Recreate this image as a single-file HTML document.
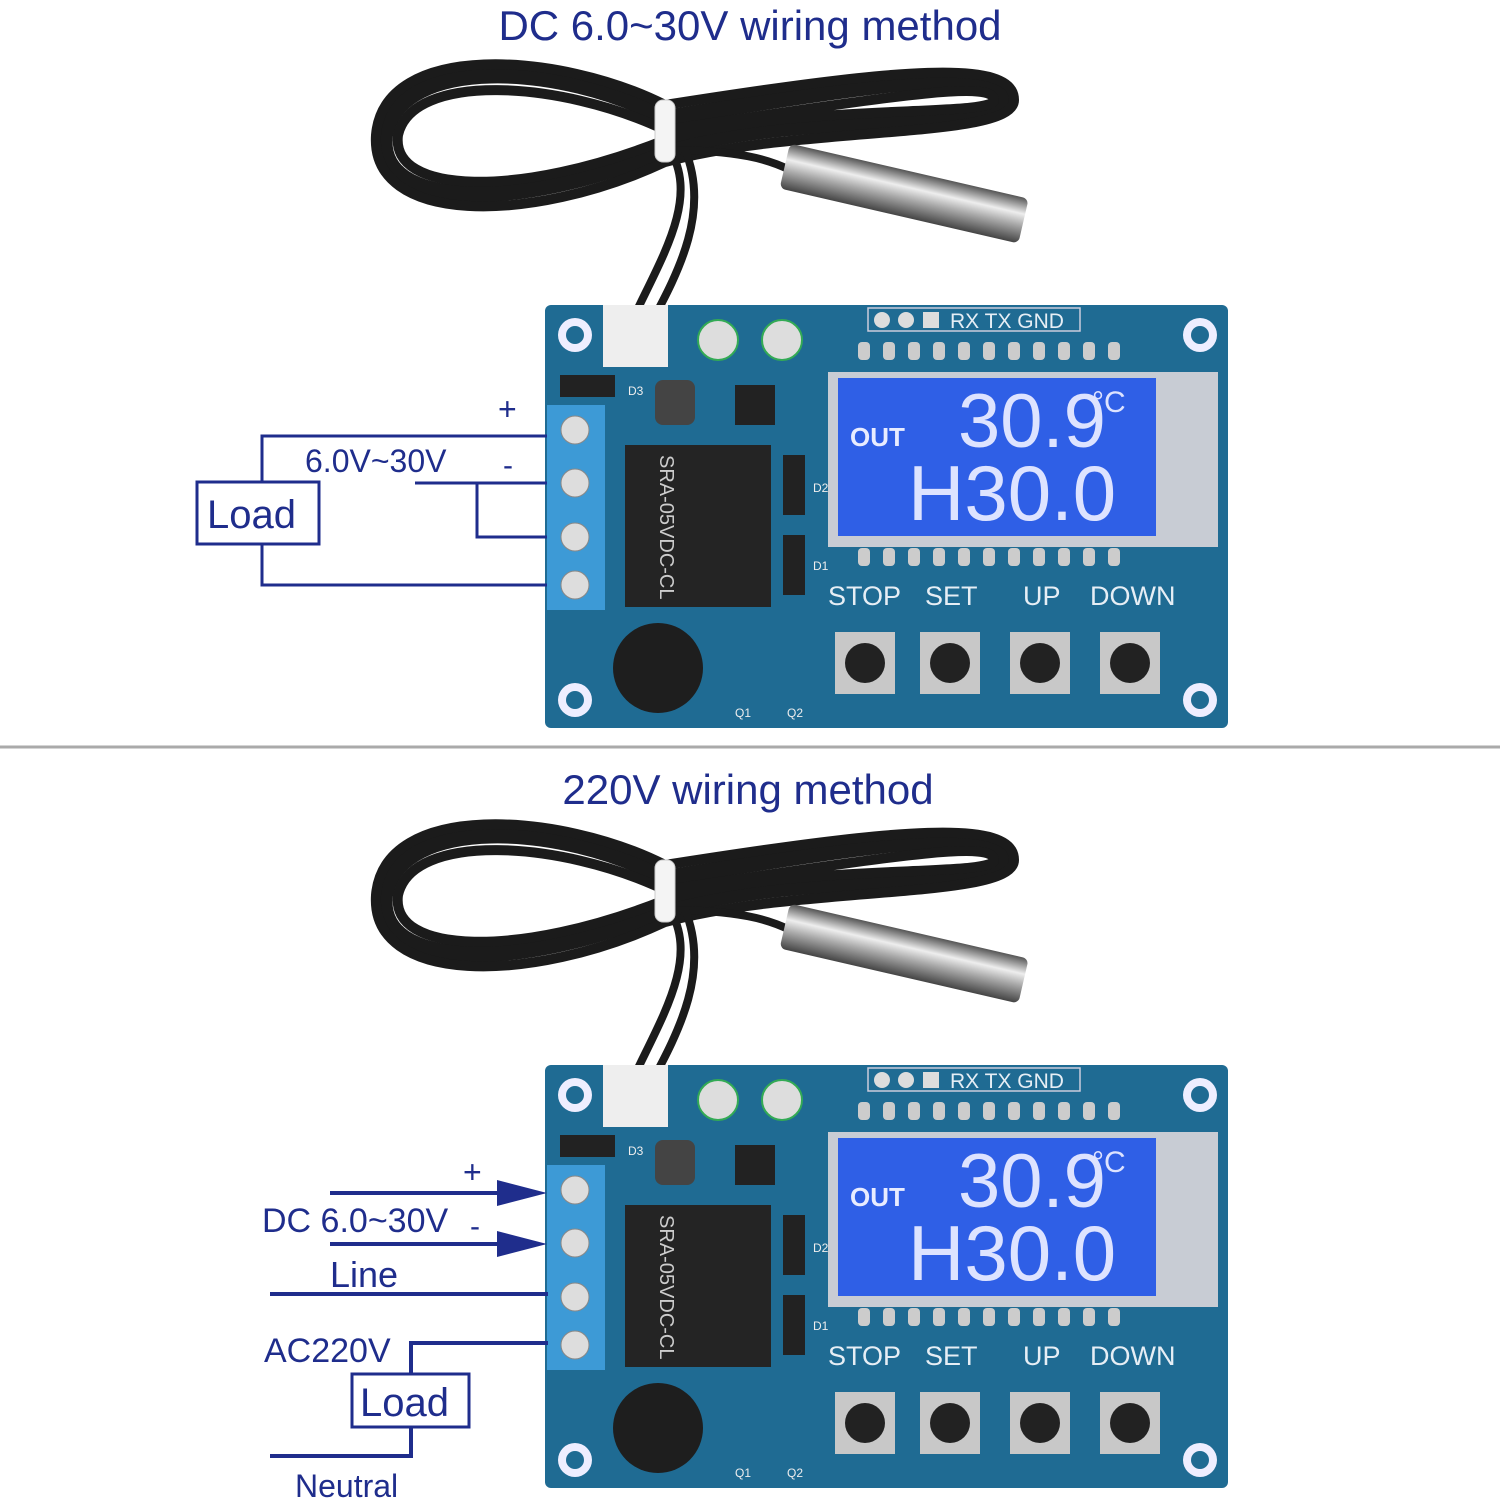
<!DOCTYPE html>
<html><head><meta charset="utf-8"><style>
html,body{margin:0;padding:0;background:#fff;width:1500px;height:1500px;overflow:hidden}
svg{display:block}
text{font-family:"Liberation Sans",sans-serif}
</style></head><body>
<svg width="1500" height="1500" viewBox="0 0 1500 1500" xmlns="http://www.w3.org/2000/svg">
<defs>
<linearGradient id="probe" x1="0" y1="0" x2="0" y2="1">
<stop offset="0" stop-color="#555"/><stop offset="0.35" stop-color="#eee"/><stop offset="0.6" stop-color="#aaa"/><stop offset="1" stop-color="#444"/>
</linearGradient>
</defs>
<text x="750" y="40" font-size="42" fill="#1f2d8c" text-anchor="middle">DC 6.0~30V wiring method</text>
<line x1="0" y1="747" x2="1500" y2="747" stroke="#aaa" stroke-width="3"/>
<text x="748" y="804" font-size="42" fill="#1f2d8c" text-anchor="middle">220V wiring method</text>

<!-- ===== TOP ===== -->
<g>
<g fill="none" stroke="#1b1b1b" stroke-linecap="round">
<path d="M665 118 C560 62 400 55 385 135 C375 210 520 212 665 150 C800 110 1005 130 1005 100 C1005 65 900 80 665 118" stroke-width="16"/>
<path d="M665 105 C560 52 384 40 376 135 C370 225 530 225 665 162 C800 125 1014 140 1014 100 C1014 58 900 68 665 105" stroke-width="10"/>
<path d="M665 130 C560 80 412 72 398 135 C390 195 520 198 665 140 C800 102 994 118 994 100 C994 80 900 95 665 130" stroke-width="10"/>
<path d="M665 150 C740 150 770 160 790 170" stroke-width="8"/>
<path d="M670 150 C700 200 660 260 630 325" stroke-width="8"/>
<path d="M685 150 C710 210 680 270 650 325" stroke-width="8"/>
</g>
<rect x="655" y="100" width="20" height="62" rx="8" fill="#f4f4f4" stroke="#ccc"/>
<g transform="translate(785,165) rotate(13)"><rect x="0" y="-22" width="245" height="46" rx="6" fill="url(#probe)"/></g>

<rect x="545" y="305" width="683" height="423" rx="6" fill="#1f6b93"/>
<g fill="#eef"><circle cx="575" cy="335" r="17"/><circle cx="1200" cy="335" r="17"/><circle cx="575" cy="700" r="17"/><circle cx="1200" cy="700" r="17"/></g>
<g fill="#1f6b93"><circle cx="575" cy="335" r="9"/><circle cx="1200" cy="335" r="9"/><circle cx="575" cy="700" r="9"/><circle cx="1200" cy="700" r="9"/></g>
<rect x="603" y="305" width="65" height="62" fill="#eee"/>
<circle cx="718" cy="340" r="20" fill="#ddd" stroke="#3a5" stroke-width="2"/><circle cx="782" cy="340" r="20" fill="#ddd" stroke="#3a5" stroke-width="2"/>
<rect x="868" y="308" width="212" height="23" fill="#1f6b93" stroke="#ccd" stroke-width="1.5"/>
<text x="950" y="328" font-size="21" fill="#e6eef5">RX TX GND</text>
<g fill="#ddd"><circle cx="882" cy="320" r="8"/><circle cx="906" cy="320" r="8"/><rect x="923" y="312" width="16" height="16"/></g>
<rect x="560" y="375" width="55" height="22" fill="#222"/>
<rect x="547" y="405" width="58" height="205" fill="#3d9ad6"/>
<g fill="#ddd" stroke="#888"><circle cx="575" cy="430" r="14"/><circle cx="575" cy="483" r="14"/><circle cx="575" cy="537" r="14"/><circle cx="575" cy="585" r="14"/></g>
<rect x="655" y="380" width="40" height="45" rx="8" fill="#444"/>
<rect x="735" y="385" width="40" height="40" fill="#222"/>
<rect x="625" y="445" width="146" height="162" fill="#242424"/>
<text transform="translate(660,455) rotate(90)" font-size="20" fill="#ccc">SRA-05VDC-CL</text>
<rect x="783" y="455" width="22" height="60" fill="#222"/><rect x="783" y="535" width="22" height="60" fill="#222"/>
<rect x="828" y="372" width="390" height="175" fill="#c8ccd4"/>
<rect x="838" y="378" width="318" height="158" fill="#2f5fe6"/>
<text x="850" y="446" font-size="26" font-weight="bold" fill="#e8ecff">OUT</text>
<text x="958" y="447" font-size="76" fill="#dde3ff">30.9</text>
<text x="1092" y="412" font-size="30" fill="#dde3ff">°C</text>
<text x="908" y="520" font-size="78" fill="#dde3ff">H30.0</text>
<g fill="#ccc"><rect x="858" y="342" width="12" height="18" rx="4"/><rect x="883" y="342" width="12" height="18" rx="4"/><rect x="908" y="342" width="12" height="18" rx="4"/><rect x="933" y="342" width="12" height="18" rx="4"/><rect x="958" y="342" width="12" height="18" rx="4"/><rect x="983" y="342" width="12" height="18" rx="4"/><rect x="1008" y="342" width="12" height="18" rx="4"/><rect x="1033" y="342" width="12" height="18" rx="4"/><rect x="1058" y="342" width="12" height="18" rx="4"/><rect x="1083" y="342" width="12" height="18" rx="4"/><rect x="1108" y="342" width="12" height="18" rx="4"/>
<rect x="858" y="548" width="12" height="18" rx="4"/><rect x="883" y="548" width="12" height="18" rx="4"/><rect x="908" y="548" width="12" height="18" rx="4"/><rect x="933" y="548" width="12" height="18" rx="4"/><rect x="958" y="548" width="12" height="18" rx="4"/><rect x="983" y="548" width="12" height="18" rx="4"/><rect x="1008" y="548" width="12" height="18" rx="4"/><rect x="1033" y="548" width="12" height="18" rx="4"/><rect x="1058" y="548" width="12" height="18" rx="4"/><rect x="1083" y="548" width="12" height="18" rx="4"/><rect x="1108" y="548" width="12" height="18" rx="4"/></g>
<g font-size="27" fill="#e6eef5"><text x="828" y="605">STOP</text><text x="925" y="605">SET</text><text x="1023" y="605">UP</text><text x="1090" y="605">DOWN</text></g>
<g fill="#c8c8c8"><rect x="835" y="632" width="60" height="62"/><rect x="920" y="632" width="60" height="62"/><rect x="1010" y="632" width="60" height="62"/><rect x="1100" y="632" width="60" height="62"/></g>
<g fill="#222"><circle cx="865" cy="663" r="20"/><circle cx="950" cy="663" r="20"/><circle cx="1040" cy="663" r="20"/><circle cx="1130" cy="663" r="20"/></g>
<circle cx="658" cy="668" r="45" fill="#1e1e1e"/>
<g font-size="12" fill="#eee"><text x="628" y="395">D3</text><text x="813" y="492">D2</text><text x="813" y="570">D1</text><text x="735" y="717">Q1</text><text x="787" y="717">Q2</text></g>

<g stroke="#1f2d8c" stroke-width="3" fill="none">
<polyline points="547,436 262,436 262,482"/>
<rect x="197" y="482" width="122" height="62"/>
<polyline points="262,544 262,585 547,585"/>
<polyline points="415,483 547,483"/>
<polyline points="547,537 477,537 477,483"/>
</g>
<text x="498" y="420" font-size="32" fill="#1f2d8c">+</text>
<text x="305" y="472" font-size="32" fill="#1f2d8c">6.0V~30V</text>
<text x="503" y="475" font-size="30" fill="#1f2d8c">-</text>
<text x="207" y="528" font-size="40" fill="#1f2d8c">Load</text>
</g>

<!-- ===== BOTTOM ===== -->
<g transform="translate(0,760)">
<g fill="none" stroke="#1b1b1b" stroke-linecap="round">
<path d="M665 118 C560 62 400 55 385 135 C375 210 520 212 665 150 C800 110 1005 130 1005 100 C1005 65 900 80 665 118" stroke-width="16"/>
<path d="M665 105 C560 52 384 40 376 135 C370 225 530 225 665 162 C800 125 1014 140 1014 100 C1014 58 900 68 665 105" stroke-width="10"/>
<path d="M665 130 C560 80 412 72 398 135 C390 195 520 198 665 140 C800 102 994 118 994 100 C994 80 900 95 665 130" stroke-width="10"/>
<path d="M665 150 C740 150 770 160 790 170" stroke-width="8"/>
<path d="M670 150 C700 200 660 260 630 325" stroke-width="8"/>
<path d="M685 150 C710 210 680 270 650 325" stroke-width="8"/>
</g>
<rect x="655" y="100" width="20" height="62" rx="8" fill="#f4f4f4" stroke="#ccc"/>
<g transform="translate(785,165) rotate(13)"><rect x="0" y="-22" width="245" height="46" rx="6" fill="url(#probe)"/></g>

<rect x="545" y="305" width="683" height="423" rx="6" fill="#1f6b93"/>
<g fill="#eef"><circle cx="575" cy="335" r="17"/><circle cx="1200" cy="335" r="17"/><circle cx="575" cy="700" r="17"/><circle cx="1200" cy="700" r="17"/></g>
<g fill="#1f6b93"><circle cx="575" cy="335" r="9"/><circle cx="1200" cy="335" r="9"/><circle cx="575" cy="700" r="9"/><circle cx="1200" cy="700" r="9"/></g>
<rect x="603" y="305" width="65" height="62" fill="#eee"/>
<circle cx="718" cy="340" r="20" fill="#ddd" stroke="#3a5" stroke-width="2"/><circle cx="782" cy="340" r="20" fill="#ddd" stroke="#3a5" stroke-width="2"/>
<rect x="868" y="308" width="212" height="23" fill="#1f6b93" stroke="#ccd" stroke-width="1.5"/>
<text x="950" y="328" font-size="21" fill="#e6eef5">RX TX GND</text>
<g fill="#ddd"><circle cx="882" cy="320" r="8"/><circle cx="906" cy="320" r="8"/><rect x="923" y="312" width="16" height="16"/></g>
<rect x="560" y="375" width="55" height="22" fill="#222"/>
<rect x="547" y="405" width="58" height="205" fill="#3d9ad6"/>
<g fill="#ddd" stroke="#888"><circle cx="575" cy="430" r="14"/><circle cx="575" cy="483" r="14"/><circle cx="575" cy="537" r="14"/><circle cx="575" cy="585" r="14"/></g>
<rect x="655" y="380" width="40" height="45" rx="8" fill="#444"/>
<rect x="735" y="385" width="40" height="40" fill="#222"/>
<rect x="625" y="445" width="146" height="162" fill="#242424"/>
<text transform="translate(660,455) rotate(90)" font-size="20" fill="#ccc">SRA-05VDC-CL</text>
<rect x="783" y="455" width="22" height="60" fill="#222"/><rect x="783" y="535" width="22" height="60" fill="#222"/>
<rect x="828" y="372" width="390" height="175" fill="#c8ccd4"/>
<rect x="838" y="378" width="318" height="158" fill="#2f5fe6"/>
<text x="850" y="446" font-size="26" font-weight="bold" fill="#e8ecff">OUT</text>
<text x="958" y="447" font-size="76" fill="#dde3ff">30.9</text>
<text x="1092" y="412" font-size="30" fill="#dde3ff">°C</text>
<text x="908" y="520" font-size="78" fill="#dde3ff">H30.0</text>
<g fill="#ccc"><rect x="858" y="342" width="12" height="18" rx="4"/><rect x="883" y="342" width="12" height="18" rx="4"/><rect x="908" y="342" width="12" height="18" rx="4"/><rect x="933" y="342" width="12" height="18" rx="4"/><rect x="958" y="342" width="12" height="18" rx="4"/><rect x="983" y="342" width="12" height="18" rx="4"/><rect x="1008" y="342" width="12" height="18" rx="4"/><rect x="1033" y="342" width="12" height="18" rx="4"/><rect x="1058" y="342" width="12" height="18" rx="4"/><rect x="1083" y="342" width="12" height="18" rx="4"/><rect x="1108" y="342" width="12" height="18" rx="4"/>
<rect x="858" y="548" width="12" height="18" rx="4"/><rect x="883" y="548" width="12" height="18" rx="4"/><rect x="908" y="548" width="12" height="18" rx="4"/><rect x="933" y="548" width="12" height="18" rx="4"/><rect x="958" y="548" width="12" height="18" rx="4"/><rect x="983" y="548" width="12" height="18" rx="4"/><rect x="1008" y="548" width="12" height="18" rx="4"/><rect x="1033" y="548" width="12" height="18" rx="4"/><rect x="1058" y="548" width="12" height="18" rx="4"/><rect x="1083" y="548" width="12" height="18" rx="4"/><rect x="1108" y="548" width="12" height="18" rx="4"/></g>
<g font-size="27" fill="#e6eef5"><text x="828" y="605">STOP</text><text x="925" y="605">SET</text><text x="1023" y="605">UP</text><text x="1090" y="605">DOWN</text></g>
<g fill="#c8c8c8"><rect x="835" y="632" width="60" height="62"/><rect x="920" y="632" width="60" height="62"/><rect x="1010" y="632" width="60" height="62"/><rect x="1100" y="632" width="60" height="62"/></g>
<g fill="#222"><circle cx="865" cy="663" r="20"/><circle cx="950" cy="663" r="20"/><circle cx="1040" cy="663" r="20"/><circle cx="1130" cy="663" r="20"/></g>
<circle cx="658" cy="668" r="45" fill="#1e1e1e"/>
<g font-size="12" fill="#eee"><text x="628" y="395">D3</text><text x="813" y="492">D2</text><text x="813" y="570">D1</text><text x="735" y="717">Q1</text><text x="787" y="717">Q2</text></g>
</g>

<g stroke="#1f2d8c" stroke-width="4" fill="none">
<line x1="330" y1="1193" x2="505" y2="1193"/>
<line x1="330" y1="1244" x2="505" y2="1244"/>
<line x1="270" y1="1294" x2="548" y2="1294"/>
<polyline points="548,1343 411,1343 411,1374"/>
<rect x="352" y="1374" width="117" height="53" stroke-width="3"/>
<polyline points="411,1427 411,1456 270,1456"/>
</g>
<g fill="#1f2d8c">
<polygon points="497,1180 547,1193 497,1206"/>
<polygon points="497,1231 547,1244 497,1257"/>
</g>
<g fill="#1f2d8c">
<text x="463" y="1183" font-size="32">+</text>
<text x="262" y="1232" font-size="34">DC 6.0~30V</text>
<text x="470" y="1236" font-size="30">-</text>
<text x="330" y="1287" font-size="36">Line</text>
<text x="264" y="1362" font-size="34">AC220V</text>
<text x="360" y="1416" font-size="40">Load</text>
<text x="295" y="1497" font-size="32">Neutral</text>
</g>
</svg>
</body></html>
